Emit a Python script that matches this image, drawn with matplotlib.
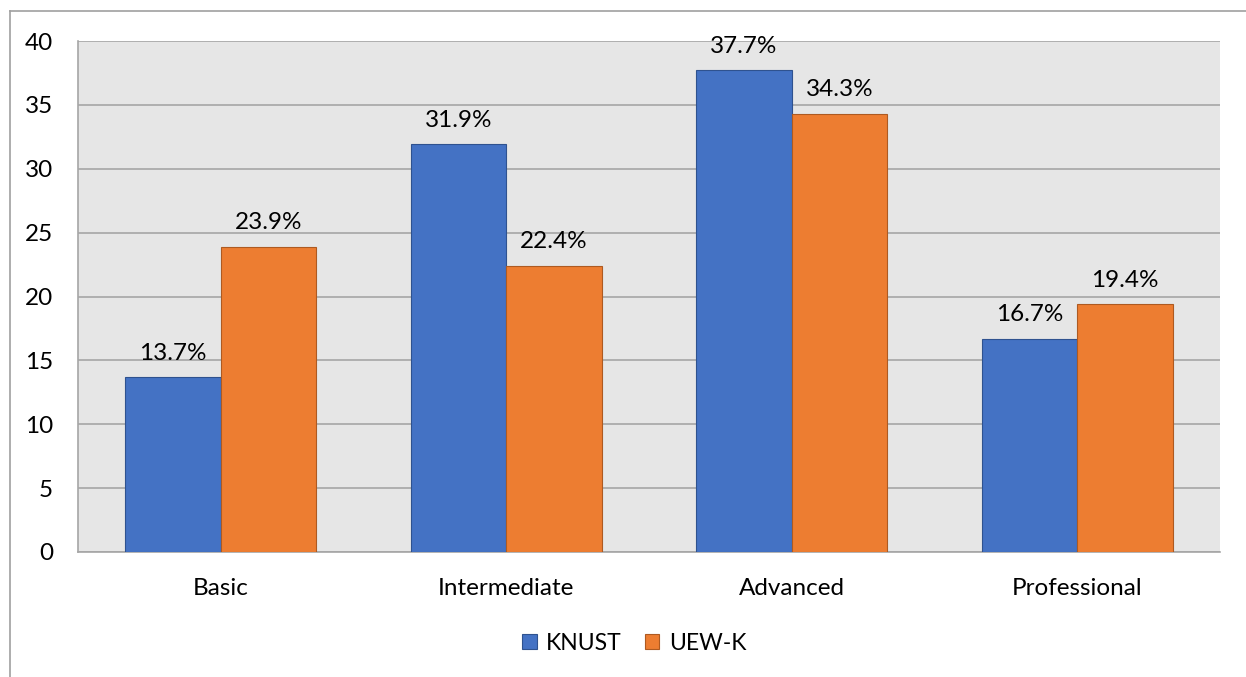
import matplotlib
matplotlib.use("Agg")
import matplotlib.pyplot as plt
import numpy as np
from matplotlib.lines import Line2D
from matplotlib.patches import Patch

categories = ["Basic", "Intermediate", "Advanced", "Professional"]
knust = [13.7, 31.9, 37.7, 16.7]
uewk = [23.9, 22.4, 34.3, 19.4]
series_names = ["KNUST", "UEW-K"]
yticks = [0, 5, 10, 15, 20, 25, 30, 35, 40]

plt.rcParams['font.family'] = ['Lato', 'DejaVu Sans']
W, H = 1246, 677
FS = 17.5
fig = plt.figure(figsize=(W/100, H/100), dpi=100)
ax = fig.add_axes([78/W, 1-552/H, (1220-78)/W, (552-41)/H])
ax.set_facecolor('#e6e6e6')

x = np.arange(len(categories))
bw = 0.334
c1, c2 = '#4472C4', '#ED7D31'
b1 = ax.bar(x - bw/2, knust, bw, color=c1, edgecolor='#2f528f', linewidth=0.8, zorder=3)
b2 = ax.bar(x + bw/2, uewk, bw, color=c2, edgecolor='#ae5a21', linewidth=0.8, zorder=3)

for bars, vals in ((b1, knust), (b2, uewk)):
    for r, v in zip(bars, vals):
        ax.annotate(f"{v:.1f}%", (r.get_x() + r.get_width()/2, v),
                    xytext=(0, 12.5), textcoords='offset points',
                    ha='center', va='baseline', fontsize=FS, color='#000000')

ax.set_xlim(-0.5, 3.5)
ax.set_ylim(0, 40)
ax.set_yticks(yticks)
ax.set_xticks(x)
ax.set_xticklabels(categories)
ax.tick_params(axis='both', length=0, labelsize=FS, colors='#000000')
ax.tick_params(axis='y', pad=18)
ax.tick_params(axis='x', pad=19)
ax.yaxis.grid(True, color='#a6a6a6', linewidth=1.2, zorder=1)
ax.set_axisbelow(True)
for s in ('top', 'right'):
    ax.spines[s].set_visible(False)
for s in ('left', 'bottom'):
    ax.spines[s].set_color('#a6a6a6')
    ax.spines[s].set_linewidth(1.2)

# outer chart border (partially visible)
fig.add_artist(Line2D([9.5/W, 9.5/W], [0, 1-11/H], transform=fig.transFigure, color='#a0a0a0', lw=1.2))
fig.add_artist(Line2D([9.5/W, 1], [1-11/H, 1-11/H], transform=fig.transFigure, color='#a0a0a0', lw=1.2))

handles = [Patch(facecolor=c1, edgecolor='#2f528f', linewidth=0.8),
           Patch(facecolor=c2, edgecolor='#ae5a21', linewidth=0.8)]
fig.legend(handles, series_names, loc='center', bbox_to_anchor=(634/W, 1-643/H), ncol=2,
           frameon=False, fontsize=16.5, handlelength=0.65, handleheight=0.65,
           handletextpad=0.4, columnspacing=1.0)

fig.savefig('out.png', dpi=100)
